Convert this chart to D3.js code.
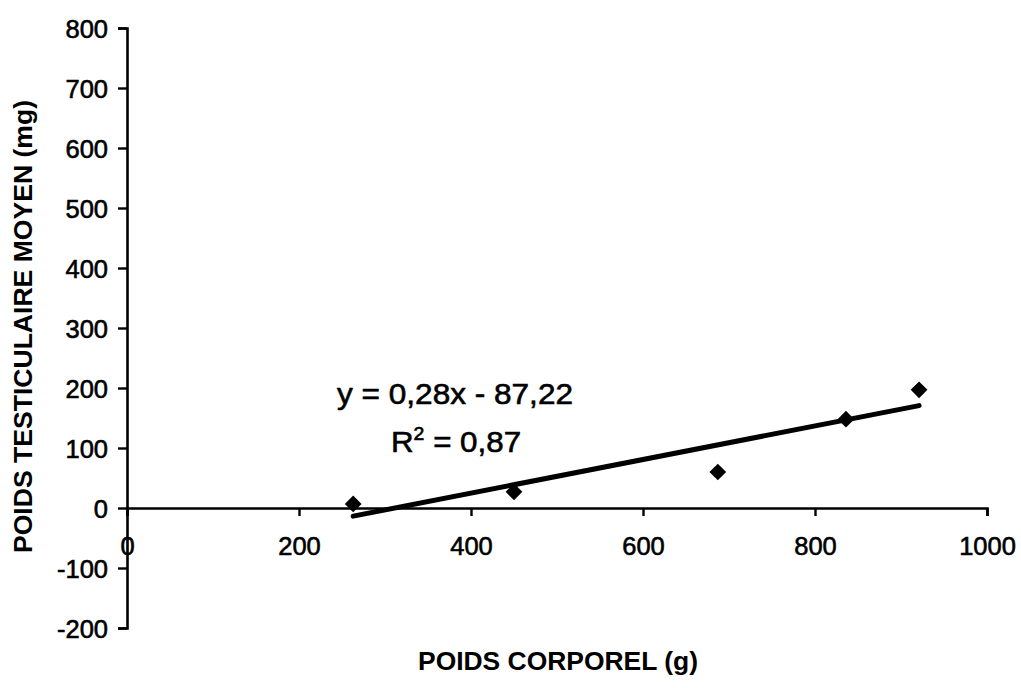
<!DOCTYPE html>
<html>
<head>
<meta charset="utf-8">
<script src="https://cdn.jsdelivr.net/npm/d3@7"></script>
<style>
  html, body { margin: 0; padding: 0; background: #fff; }
  svg { display: block; }
  text { font-family: "Liberation Sans", Arial, Helvetica, sans-serif; fill: #000; }
</style>
</head>
<body>
<svg id="chart" width="1021" height="688"></svg>
<script>
// Body weight (g) and mean testis weight (mg)
const bodyWeight = [263, 450, 687, 836, 921];
const testisWeight = [6.7, 27, 60, 148, 197];

// Linear fit shown on the chart
const slope = 0.28;
const intercept = -87.22;
const equationLabel = "y = 0,28x - 87,22";
const r2Value = "0,87";

const xTicks = [0, 200, 400, 600, 800, 1000];
const yTicks = [-200, -100, 0, 100, 200, 300, 400, 500, 600, 700, 800];

const xTitle = "POIDS CORPOREL (g)";
const yTitle = "POIDS TESTICULAIRE MOYEN (mg)";

const svg = d3.select("#chart");

const x = d3.scaleLinear().domain([0, 1000]).range([127, 987]);
const y = d3.scaleLinear().domain([-200, 800]).range([628, 28]);

const fmt = d => String(d);

// Y axis at x = 0
const yAxis = svg.append("g")
  .attr("transform", `translate(${x(0)},0)`)
  .call(d3.axisLeft(y).tickValues(yTicks).tickFormat(fmt).tickSize(9).tickPadding(10));

// X axis at y = 0
const xAxis = svg.append("g")
  .attr("transform", `translate(0,${y(0)})`)
  .call(d3.axisBottom(x).tickValues(xTicks).tickFormat(fmt).tickSize(8).tickPadding(21));

[xAxis, yAxis].forEach(g => {
  g.select(".domain").attr("stroke", "#000").attr("stroke-width", 2.6);
  g.selectAll(".tick line").attr("stroke", "#000").attr("stroke-width", 2.4);
  g.selectAll(".tick text")
    .style("font-family", "'Liberation Sans', Arial, sans-serif")
    .style("font-size", "25.5px")
    .attr("fill", "#000")
    .attr("stroke", "#000")
    .attr("stroke-width", 0.6);
});
yAxis.selectAll(".tick text").attr("dy", "0.36em");

// Trend line over the observed range
const x0 = d3.min(bodyWeight), x1 = d3.max(bodyWeight);
svg.append("line")
  .attr("x1", x(x0)).attr("y1", y(slope * x0 + intercept))
  .attr("x2", x(x1)).attr("y2", y(slope * x1 + intercept))
  .attr("stroke", "#000")
  .attr("stroke-width", 5)
  .attr("stroke-linecap", "round");

// Diamond markers
const diamond = d3.symbol().type(d3.symbolSquare).size(140);
svg.append("g").selectAll("path")
  .data(bodyWeight.map((d, i) => [d, testisWeight[i]]))
  .join("path")
  .attr("d", diamond)
  .attr("transform", d => `translate(${x(d[0])},${y(d[1])}) rotate(45)`)
  .attr("fill", "#000");

// Equation and R²
svg.append("text")
  .attr("x", 337).attr("y", 404)
  .attr("textLength", 236).attr("lengthAdjust", "spacingAndGlyphs")
  .attr("stroke", "#000").attr("stroke-width", 0.6)
  .style("font-size", "29px")
  .text(equationLabel);

const r2 = svg.append("text")
  .attr("transform", "translate(391,452) scale(1.08,1)")
  .attr("stroke", "#000").attr("stroke-width", 0.6)
  .style("font-size", "29px");
r2.append("tspan").text("R");
r2.append("tspan").attr("dy", -12).style("font-size", "18px").text("2");
r2.append("tspan").attr("dy", 12).text(" = " + r2Value);

// Axis titles
svg.append("text")
  .attr("x", 418).attr("y", 670)
  .attr("textLength", 280).attr("lengthAdjust", "spacingAndGlyphs")
  .style("font-size", "25px").style("font-weight", "bold")
  .text(xTitle);

svg.append("text")
  .attr("transform", "translate(32,553) rotate(-90)")
  .attr("textLength", 453).attr("lengthAdjust", "spacingAndGlyphs")
  .style("font-size", "26px").style("font-weight", "bold")
  .text(yTitle);
</script>
</body>
</html>
